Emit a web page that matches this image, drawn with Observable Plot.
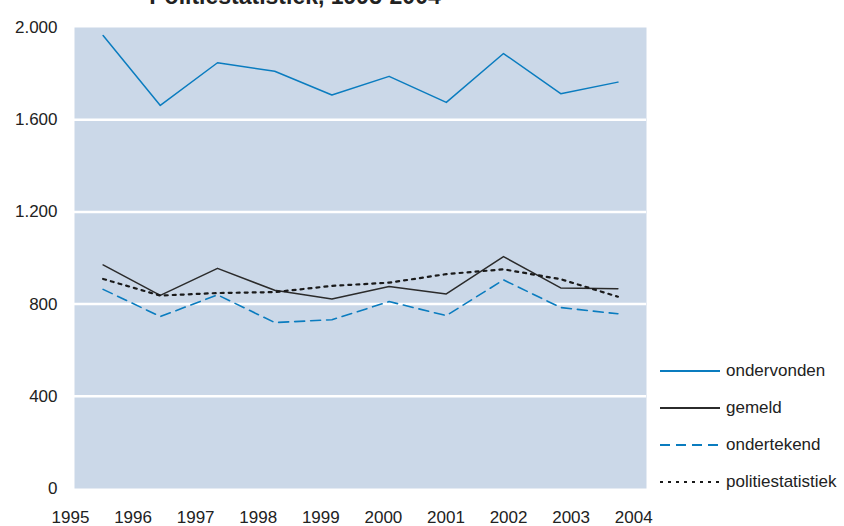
<!DOCTYPE html>
<html>
<head>
<meta charset="utf-8">
<script src="https://cdn.jsdelivr.net/npm/d3@7"></script>
<script src="https://cdn.jsdelivr.net/npm/@observablehq/plot@0.6"></script>
<style>
  html, body { margin: 0; padding: 0; background: #fff; overflow: hidden; }
  #wrap { position: relative; width: 844px; height: 526px; font-family: "Liberation Sans", Arial, sans-serif; color: #222; }
  #title { position: absolute; top: -15.5px; left: 0; width: 590px; text-align: center; font-weight: bold; font-size: 23px; line-height: 23px; color: #222; white-space: nowrap; }
  #legend { position: absolute; left: 660px; top: 352px; font-size: 17px; }
  .row { display: flex; align-items: center; height: 37px; }
  .row svg { margin-right: 6px; }
</style>
</head>
<body>
<div id="wrap">
  <div id="chart"></div>
  <div id="title">Politiestatistiek, 1995-2004</div>
  <div id="legend"></div>
</div>
<script>
const years = ["1995","1996","1997","1998","1999","2000","2001","2002","2003","2004"];
const ondervonden = [1965, 1662, 1847, 1810, 1707, 1788, 1675, 1887, 1713, 1763];
const gemeld = [970, 838, 955, 860, 822, 876, 844, 1006, 870, 867];
const ondertekend = [864, 746, 840, 720, 732, 811, 750, 905, 785, 758];
const politiestatistiek = [909, 837, 848, 852, 879, 893, 930, 951, 908, 832];
const yTicks = [0, 400, 800, 1200, 1600, 2000];
const gridTicks = [400, 800, 1200, 1600];

const seriesNames = ["ondervonden", "gemeld", "ondertekend", "politiestatistiek"];
const seriesValues = [ondervonden, gemeld, ondertekend, politiestatistiek];
const seriesStyle = [
  {stroke: "#0a7cbf", strokeWidth: 1.5, dash: null},
  {stroke: "#2b2b2b", strokeWidth: 1.5, dash: null},
  {stroke: "#0a7cbf", strokeWidth: 1.6, dash: "10,6"},
  {stroke: "#1a1a1a", strokeWidth: 2.2, dash: "3,5"}
];

// x tick labels in the original are spread a little wider than the data points
const labelStart = -0.57, labelStep = 1.094;
const tickPos = years.map((_, j) => labelStart + labelStep * j);
const labelFor = new Map(tickPos.map((p, j) => [p, years[j]]));

const nl = d3.formatLocale({decimal: ",", thousands: ".", grouping: [3], currency: ["€", ""]});
const fmt = nl.format(",d");

const lineMarks = seriesValues.map((vals, k) => Plot.lineY(vals, {
  x: (d, i) => i,
  y: d => d,
  stroke: seriesStyle[k].stroke,
  strokeWidth: seriesStyle[k].strokeWidth,
  strokeDasharray: seriesStyle[k].dash || undefined
}));

const chart = Plot.plot({
  width: 844,
  height: 526,
  marginLeft: 74,
  marginRight: 198,
  marginTop: 27,
  marginBottom: 38,
  style: {fontFamily: "'Liberation Sans', Arial, sans-serif", fontSize: "17px", color: "#222", background: "transparent"},
  x: {domain: [-0.5, 9.5], axis: null},
  y: {domain: [0, 2000], axis: null},
  marks: [
    Plot.frame({fill: "#cbd8e8", stroke: null}),
    Plot.gridY(gridTicks, {stroke: "white", strokeOpacity: 1, strokeWidth: 2.5}),
    Plot.axisY(yTicks, {tickSize: 0, tickPadding: 17, tickFormat: fmt, fontSize: 17, fill: "#222"}),
    Plot.axisX(tickPos, {tickSize: 0, tickPadding: 22, tickFormat: d => labelFor.get(d), fontSize: 17, fill: "#222"}),
    ...lineMarks
  ]
});
document.getElementById("chart").appendChild(chart);

const legend = document.getElementById("legend");
seriesNames.forEach((name, k) => {
  const s = seriesStyle[k];
  const row = document.createElement("div");
  row.className = "row";
  row.innerHTML = `<svg width="60" height="10"><line x1="0" x2="60" y1="5" y2="5" stroke="${s.stroke}" stroke-width="${k === 3 ? 1.8 : 2}" ${s.dash ? `stroke-dasharray="${s.dash}"` : ""}/></svg><span>${name}</span>`;
  legend.appendChild(row);
});
</script>
</body>
</html>
